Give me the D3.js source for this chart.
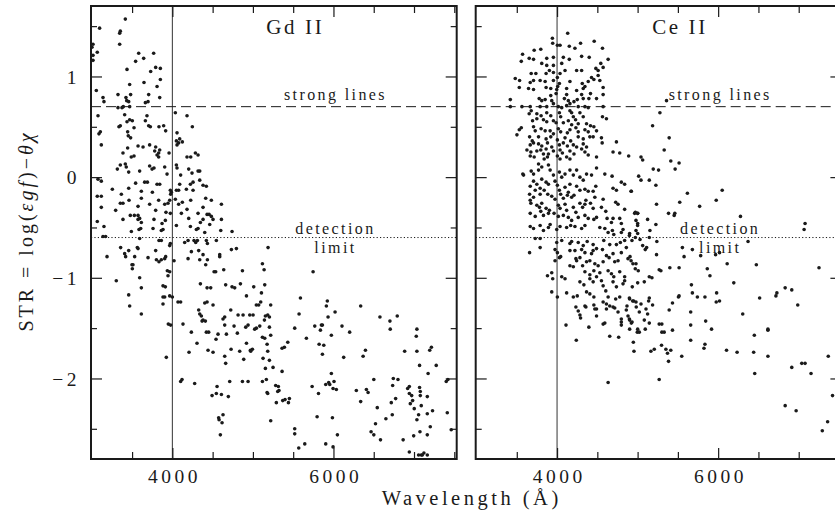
<!DOCTYPE html>
<html>
<head>
<meta charset="utf-8">
<script src="https://cdn.jsdelivr.net/npm/d3@7"></script>
<style>
  body { margin: 0; background: #fff; }
  svg text { font-family: "Liberation Serif", "Times New Roman", serif; fill: #1a1a1a; }
</style>
</head>
<body>
<svg id="chart" width="835" height="520"></svg>
<script>
// [wavelength (A), STR]
const gdLines = [
  [3416,1.57],[3097,1.48],[3354,1.45],[3346,1.43],[3346,1.32],[3015,1.32],[3002,1.29],[3068,1.24],[3015,1.21],[3015,1.16],
  [3582,1.23],[3768,1.23],[3544,1.15],[3644,1.18],[3793,1.09],[3851,1.08],[3731,1.05],[3437,1.07],[3851,0.97],[3648,0.94],
  [3470,0.92],[3810,0.90],[3056,0.86],[3325,0.82],[3482,0.82],[3706,0.82],[3139,0.79],[3151,0.75],[3843,0.79],[3424,0.79],
  [3433,0.76],[3458,0.75],[3470,0.70],[3665,0.74],[3698,0.75],[3375,0.69],[3325,0.69],[3391,0.70],[4037,0.64],[4182,0.61],
  [3077,0.61],[3408,0.62],[3685,0.61],[3470,0.57],[3503,0.56],[3437,0.55],[3354,0.51],[3337,0.50],[3665,0.56],[3706,0.51],
  [3727,0.50],[3524,0.49],[3892,0.51],[3834,0.50],[3917,0.46],[4248,0.50],[3106,0.45],[3089,0.43],[3445,0.45],[3453,0.41],
  [3482,0.39],[4058,0.44],[4050,0.36],[4078,0.34],[4058,0.32],[4124,0.35],[4091,0.38],[3118,0.32],[3574,0.31],[3636,0.30],
  [3718,0.32],[3793,0.30],[3445,0.29],[3781,0.26],[3830,0.24],[3843,0.27],[3810,0.22],[3830,0.20],[3959,0.24],[3387,0.24],
  [4286,0.24],[4228,0.20],[4182,0.20],[4319,0.22],[3524,0.21],[3490,0.20],[4050,0.12],[4058,0.09],[3354,0.12],[3317,0.08],
  [3416,0.13],[3428,0.10],[3718,0.11],[3772,0.09],[3748,0.08],[3905,0.10],[3458,0.05],[3594,0.06],[3934,0.03],[4203,0.08],
  [4244,0.04],[4319,0.06],[4340,0.06],[4103,0.02],[3077,-0.02],[3118,-0.04],[3544,-0.06],[3656,-0.05],[3690,-0.05],[3810,-0.07],
  [3843,-0.07],[4224,-0.07],[4091,-0.07],[4257,-0.05],[4340,-0.03],[4381,-0.08],[4422,-0.09],[3458,-0.11],[3255,-0.12],[3975,-0.13],
  [3988,-0.15],[3979,-0.17],[4050,-0.13],[4078,-0.13],[4174,-0.12],[3615,-0.14],[3367,-0.17],[3068,-0.19],[3118,-0.19],[4257,-0.13],
  [3752,-0.15],[3462,-0.23],[3615,-0.21],[3830,-0.23],[3967,-0.23],[4037,-0.22],[4414,-0.21],[4484,-0.23],[4228,-0.23],[3354,-0.26],
  [3387,-0.26],[3718,-0.27],[3905,-0.27],[3946,-0.26],[4124,-0.25],[3118,-0.30],[3574,-0.29],[4078,-0.27],[4381,-0.30],[4609,-0.27],
  [3296,-0.33],[3793,-0.33],[3921,-0.35],[3975,-0.36],[3478,-0.38],[3528,-0.38],[3574,-0.38],[3594,-0.41],[4182,-0.32],[4431,-0.37],
  [4456,-0.37],[4484,-0.39],[4112,-0.36],[4319,-0.36],[4505,-0.42],[4609,-0.42],[3387,-0.42],[3574,-0.42],[3615,-0.45],[3772,-0.42],
  [4203,-0.41],[3913,-0.43],[3872,-0.46],[3884,-0.52],[3068,-0.44],[4348,-0.45],[4381,-0.42],[3151,-0.49],[3586,-0.52],[3607,-0.51],
  [3491,-0.54],[3760,-0.51],[4050,-0.48],[4224,-0.49],[4298,-0.52],[4319,-0.51],[4464,-0.47],[4601,-0.53],[4741,-0.54],[4402,-0.55],
  [3863,-0.53],[3139,-0.59],[3172,-0.59],[3594,-0.61],[3834,-0.63],[3863,-0.63],[3967,-0.68],[3975,-0.66],[4153,-0.65],[4195,-0.63],
  [4269,-0.63],[4311,-0.63],[4290,-0.65],[4422,-0.63],[4435,-0.66],[4546,-0.63],[3358,-0.70],[5188,-0.70],[3189,-0.79],[3458,-0.73],
  [3408,-0.76],[3420,-0.79],[3565,-0.70],[3574,-0.71],[3532,-0.79],[3499,-0.87],[3698,-0.80],[3793,-0.73],[3802,-0.82],[3834,-0.84],
  [3863,-0.82],[3905,-0.81],[3917,-0.79],[4021,-0.83],[4195,-0.81],[4236,-0.74],[4327,-0.73],[4381,-0.77],[4340,-0.82],[4588,-0.77],
  [4588,-0.79],[4435,-0.82],[4733,-0.72],[4795,-0.71],[3511,-0.87],[4414,-0.87],[3503,-0.91],[3938,-0.93],[3967,-0.94],[3946,-0.98],
  [3594,-1.00],[3304,-1.03],[4518,-0.94],[4538,-0.94],[4638,-0.92],[4870,-0.93],[5118,-0.86],[5139,-0.92],[5747,-0.94],[3615,-1.10],
  [3884,-1.08],[3913,-1.09],[3458,-1.17],[3884,-1.19],[3905,-1.19],[3967,-1.18],[4000,-1.19],[4348,-1.06],[4431,-1.10],[4476,-1.10],
  [4662,-1.07],[4741,-1.09],[4774,-1.10],[4845,-1.06],[5010,-1.09],[5147,-1.07],[5106,-1.15],[4920,-1.18],[4070,-1.24],[4103,-1.24],
  [3470,-1.28],[3884,-1.26],[4402,-1.25],[4431,-1.24],[4505,-1.27],[5043,-1.27],[5072,-1.27],[5097,-1.24],[5221,-1.27],[5590,-1.20],
  [5924,-1.23],[5912,-1.28],[6338,-1.28],[3615,-1.36],[4327,-1.32],[4340,-1.36],[4360,-1.38],[4369,-1.43],[4410,-1.43],[4381,-1.42],
  [4725,-1.32],[4650,-1.39],[4629,-1.41],[4816,-1.37],[4878,-1.37],[4961,-1.37],[5002,-1.37],[5155,-1.38],[5184,-1.37],[5143,-1.42],
  [5205,-1.39],[5573,-1.36],[5933,-1.39],[6020,-1.34],[6577,-1.39],[6792,-1.38],[6701,-1.43],[3950,-1.46],[3979,-1.47],[4132,-1.46],
  [4650,-1.47],[4766,-1.48],[4911,-1.49],[4940,-1.47],[5043,-1.50],[5022,-1.51],[5085,-1.48],[5205,-1.49],[5519,-1.50],[5768,-1.48],
  [5850,-1.47],[5863,-1.47],[5838,-1.52],[6106,-1.48],[6201,-1.54],[6705,-1.51],[7036,-1.51],[4236,-1.54],[4422,-1.54],[4451,-1.54],
  [4567,-1.56],[4671,-1.56],[4807,-1.55],[5118,-1.59],[5147,-1.60],[5221,-1.57],[5664,-1.60],[5974,-1.57],[7028,-1.58],[4542,-1.61],
  [5822,-1.66],[5880,-1.67],[4306,-1.65],[4920,-1.65],[5176,-1.66],[5433,-1.64],[5362,-1.70],[5391,-1.69],[4207,-1.74],[4443,-1.72],
  [4505,-1.74],[4729,-1.71],[4836,-1.73],[4973,-1.73],[4994,-1.71],[4969,-1.72],[5184,-1.73],[6397,-1.72],[6884,-1.73],[7036,-1.73],
  [7216,-1.69],[7195,-1.72],[4650,-1.78],[4662,-1.85],[4886,-1.81],[5126,-1.80],[5205,-1.82],[5863,-1.76],[6368,-1.78],[6127,-1.79],
  [7069,-1.87],[7276,-1.87],[3925,-1.79],[5155,-1.90],[5250,-1.89],[5362,-1.93],[5974,-1.95],[7175,-1.95],[4103,-2.03],[4120,-2.01],
  [4277,-2.05],[4712,-2.03],[4870,-2.03],[4940,-2.03],[5118,-2.03],[5167,-2.01],[5941,-2.04],[6007,-2.03],[6501,-2.01],[6743,-2.00],
  [6801,-2.01],[7400,-2.03],[7421,-2.01],[4555,-2.08],[5735,-2.08],[5904,-2.06],[5954,-2.06],[5995,-2.10],[6036,-2.11],[6284,-2.12],
  [6409,-2.11],[6430,-2.14],[6735,-2.07],[6921,-2.10],[6942,-2.08],[7069,-2.09],[7078,-2.13],[4493,-2.17],[4546,-2.15],[4609,-2.16],
  [4695,-2.18],[5176,-2.14],[5184,-2.15],[5283,-2.07],[5316,-2.08],[5324,-2.12],[5370,-2.22],[5399,-2.21],[5453,-2.20],[5441,-2.24],
  [5291,-2.24],[5308,-2.13],[5814,-2.15],[6338,-2.23],[6718,-2.24],[6772,-2.20],[6942,-2.15],[6971,-2.17],[6983,-2.22],[6954,-2.25],
  [7078,-2.17],[7165,-2.18],[7090,-2.27],[6544,-2.29],[7003,-2.30],[7230,-2.32],[7413,-2.34],[4629,-2.36],[4575,-2.39],[4580,-2.41],
  [4617,-2.44],[4596,-2.56],[5221,-2.42],[5797,-2.38],[5987,-2.39],[6522,-2.45],[6651,-2.40],[6730,-2.36],[7057,-2.36],[7036,-2.41],
  [7165,-2.35],[7202,-2.48],[7462,-2.51],[5519,-2.50],[5519,-2.55],[6049,-2.56],[6467,-2.53],[6501,-2.56],[6584,-2.61],[6996,-2.57],
  [7074,-2.53],[7165,-2.56],[6865,-2.61],[5569,-2.69],[5644,-2.65],[5904,-2.65],[5995,-2.68],[6942,-2.73],[7090,-2.76],[7123,-2.74],
  [7165,-2.76],[7103,-2.76],[7057,-2.76]
];

const ceLines = [
  [4132,1.43],[3942,1.38],[3946,1.33],[4004,1.31],[4037,1.31],[4152,1.30],[4292,1.33],[4461,1.35],[4222,1.28],[4564,1.28],
  [3572,1.22],[3556,1.15],[3716,1.26],[3798,1.27],[3654,1.18],[3708,1.17],[3872,1.18],[3955,1.19],[4078,1.19],[4152,1.17],
  [4305,1.20],[4399,1.19],[4543,1.13],[4634,1.17],[4482,1.08],[4510,1.06],[4572,1.09],[3810,1.13],[3872,1.11],[3905,1.06],
  [3864,1.03],[3955,1.11],[3955,1.04],[4058,1.13],[4099,1.06],[4037,1.03],[4243,1.06],[4305,1.06],[3679,1.03],[3737,1.03],
  [3790,0.96],[3852,0.95],[3481,0.98],[3535,0.96],[3531,0.89],[3667,0.94],[3708,0.96],[3955,0.96],[4004,0.99],[4029,0.93],
  [4160,0.95],[4387,0.95],[4346,0.90],[4313,0.93],[4428,0.99],[4457,0.97],[4531,0.96],[4510,1.01],[3646,0.88],[3708,0.87],
  [3864,0.89],[3922,0.88],[3996,0.87],[4008,0.90],[4119,0.88],[4119,0.82],[4243,0.86],[4325,0.88],[4415,0.83],[4572,0.89],
  [3988,0.83],[3922,0.81],[4305,0.82],[4490,0.78],[4572,0.82],[3420,0.77],[3778,0.78],[3810,0.76],[3852,0.77],[3934,0.76],
  [3955,0.73],[4091,0.78],[4140,0.76],[4160,0.73],[4210,0.75],[4251,0.77],[4395,0.78],[4325,0.78],[3420,0.70],[3564,0.70],
  [3667,0.70],[3679,0.66],[3790,0.70],[3872,0.70],[4016,0.70],[4058,0.69],[4119,0.71],[4160,0.66],[4263,0.70],[4346,0.70],
  [4387,0.69],[4572,0.70],[3654,0.63],[3749,0.63],[3802,0.61],[3872,0.64],[3922,0.61],[4029,0.64],[4045,0.60],[4181,0.64],
  [4202,0.60],[4284,0.64],[4325,0.60],[3696,0.56],[3749,0.58],[3831,0.57],[3872,0.55],[3955,0.56],[3988,0.54],[4078,0.54],
  [4140,0.56],[4181,0.52],[4230,0.57],[4263,0.53],[4366,0.53],[4415,0.51],[4564,0.60],[4613,0.58],[3556,0.49],[3531,0.47],
  [3502,0.42],[3708,0.50],[3729,0.46],[3802,0.48],[3852,0.46],[3914,0.46],[3955,0.43],[4016,0.48],[4045,0.45],[4160,0.47],
  [4128,0.44],[4234,0.49],[4263,0.45],[4346,0.47],[4387,0.45],[4457,0.50],[4490,0.46],[3659,0.40],[3692,0.36],[3770,0.40],
  [3864,0.38],[3922,0.40],[4004,0.37],[4099,0.39],[4169,0.36],[4263,0.40],[4325,0.38],[4407,0.40],[4448,0.40],[4551,0.39],
  [4560,0.34],[3667,0.32],[3708,0.34],[3770,0.33],[3810,0.31],[3881,0.34],[3934,0.30],[4029,0.32],[4078,0.34],[4128,0.31],
  [4202,0.32],[4243,0.30],[4325,0.33],[4366,0.30],[4737,0.35],[3626,0.27],[3675,0.25],[3749,0.26],[3798,0.27],[3864,0.28],
  [3893,0.23],[3955,0.26],[4037,0.27],[4066,0.24],[4160,0.26],[4210,0.23],[4305,0.28],[4346,0.25],[4695,0.25],[4778,0.24],
  [4889,0.21],[3667,0.21],[3716,0.20],[3831,0.23],[3840,0.18],[3881,0.20],[4004,0.21],[4037,0.18],[4119,0.20],[4160,0.18],
  [4490,0.20],[4387,0.22],[3575,0.03],
  [3584,0.02],[3679,0.06],[3708,0.03],[3770,0.13],[3810,0.10],[3770,0.07],[3893,0.12],[3914,0.07],[3708,-0.04],[3749,-0.07],
  [3810,-0.02],[3864,-0.05],[3893,-0.07],[3955,0.02],[3975,-0.04],[4029,0.05],[4058,0.00],[4099,0.03],[4160,0.07],[4202,0.02],
  [4243,0.07],[4284,0.00],[4325,-0.03],[4366,0.03],[4428,0.02],[4490,0.09],[4593,0.03],[4683,0.01],[3667,-0.09],[3729,-0.13],
  [3790,-0.11],[3840,-0.13],[4004,-0.08],[4029,-0.13],[4099,-0.10],[4140,-0.15],[4160,-0.07],[4243,-0.09],[4284,-0.13],[4346,-0.12],
  [4387,-0.14],[4481,-0.09],[4448,-0.14],[4695,-0.11],[4737,-0.13],[4798,-0.05],[4839,-0.07],[4922,-0.14],[3659,-0.17],[3708,-0.20],
  [3790,-0.17],[3885,-0.17],[3934,-0.19],[3975,-0.22],[4045,-0.17],[4078,-0.21],[4128,-0.18],[4181,-0.20],[4210,-0.18],[4358,-0.23],
  [4346,-0.27],[4469,-0.20],[4572,-0.22],[3667,-0.23],[3675,-0.26],[3749,-0.28],[3782,-0.30],[3810,-0.26],[3864,-0.31],[3893,-0.36],
  [4016,-0.28],[4037,-0.31],[4099,-0.27],[4119,-0.33],[4202,-0.30],[4234,-0.35],[4284,-0.26],[4317,-0.30],[4415,-0.26],[4448,-0.31],
  [4551,-0.30],[4605,-0.34],[4728,-0.25],[4757,-0.27],[4839,-0.32],[4963,-0.36],[3667,-0.36],[3729,-0.39],[3798,-0.34],[3831,-0.38],
  [3905,-0.33],[3963,-0.36],[4016,-0.39],[4078,-0.38],[4140,-0.40],[4181,-0.43],[4263,-0.40],[4346,-0.38],[4387,-0.41],[4457,-0.42],
  [4490,-0.40],[4621,-0.41],[4675,-0.45],[4695,-0.41],[4778,-0.41],[4798,-0.46],[5000,-0.36],[3667,-0.49],[3708,-0.51],[3790,-0.48],
  [3831,-0.53],[3893,-0.50],[3914,-0.47],[3996,-0.52],[4037,-0.49],[4119,-0.50],[4169,-0.48],[4222,-0.49],[4305,-0.51],[4346,-0.48],
  [4531,-0.50],[4593,-0.51],[4634,-0.55],[4687,-0.53],[4704,-0.57],[4798,-0.55],[4819,-0.52],[4901,-0.56],[5000,-0.48],[3729,-0.61],
  [3790,-0.61],[3790,-0.70],[3659,-0.75],[3996,-0.65],[4058,-0.63],[4160,-0.66],[4181,-0.64],[4263,-0.65],[4325,-0.68],[4374,-0.64],
  [4448,-0.67],[4490,-0.71],[4580,-0.63],[4654,-0.67],[4737,-0.67],[4786,-0.65],[4839,-0.63],[4860,-0.70],[4930,-0.63],[3975,-0.72],
  [4004,-0.75],[4029,-0.80],[3975,-0.83],[4160,-0.73],[4222,-0.73],[4305,-0.72],[4346,-0.75],[4448,-0.73],[4428,-0.76],[4564,-0.72],
  [4613,-0.78],[4646,-0.80],[4695,-0.76],[4798,-0.75],[4045,-0.79],[4234,-0.81],[4284,-0.80],[4243,-0.83],[4366,-0.84],[4407,-0.83],
  [4469,-0.86],[4510,-0.88],[4572,-0.84],[4716,-0.84],[4757,-0.83],[4881,-0.81],[4942,-0.86],[4971,-0.91],[4160,-0.88],[4202,-0.89],
  [4317,-0.88],[3881,-0.98],[3934,-0.95],[3946,-1.01],[4058,-0.99],[4099,-1.01],[4346,-0.94],[4407,-0.97],[4457,-0.93],[4490,-0.99],
  [4531,-0.95],[4634,-0.93],[4675,-0.96],[4704,-0.99],[4778,-0.94],[4839,-0.99],[5008,-0.93],[4284,-1.04],[4333,-1.07],[4407,-1.01],
  [4448,-1.04],[4551,-1.03],[4572,-1.08],[4695,-1.04],[4737,-1.09],[4819,-1.06],[4839,-1.03],[4934,-1.09],[3934,-1.14],[4004,-1.19],
  [4119,-1.15],[4202,-1.19],[4251,-1.18],[4366,-1.14],[4407,-1.16],[4457,-1.19],[4605,-1.13],[4634,-1.19],[4728,-1.21],[4778,-1.19],
  [4901,-1.21],[4951,-1.23],[4572,-1.24],[4613,-1.26],[4234,-1.29],[4346,-1.28],[4457,-1.27],[4490,-1.31],[4654,-1.28],[4716,-1.30],
  [4868,-1.28],[4983,-1.29],
  [4263,-1.33],[4358,-1.29],[4469,-1.31],[4613,-1.31],[4695,-1.29],[4757,-1.34],[4860,-1.32],[4798,-1.41],[4798,-1.44],[4798,-1.47],
  [4881,-1.38],[4901,-1.42],[4922,-1.45],[4284,-1.37],[4292,-1.40],[4490,-1.38],[4572,-1.46],[4593,-1.45],[4111,-1.47],[4395,-1.49],
  [4654,-1.58],[4765,-1.59],[4901,-1.51],[4996,-1.54],[4239,-1.62],[4955,-1.73],[4634,-2.04],
  [5359,0.76],[5277,0.64],[5186,0.51],[5392,0.39],[5330,0.27],[5042,0.20],[5063,0.17],[5194,0.08],[5260,0.07],[5412,0.16],
  [5515,0.14],[5466,0.08],[5013,0.01],[5042,-0.03],[5145,-0.03],[5227,-0.08],[4919,-0.14],[5618,-0.16],[6050,-0.13],[5976,-0.23],
  [5523,-0.25],[5770,-0.29],[5235,-0.27],[4972,-0.35],[5001,-0.36],[5384,-0.36],[5454,-0.38],[5462,-0.36],[4980,-0.43],[5001,-0.46],
  [5124,-0.42],[5227,-0.47],[6277,-0.39],[7079,-0.46],[7067,-0.52],[4980,-0.53],[5001,-0.56],[5153,-0.53],[4898,-0.58],[4972,-0.60],
  [5030,-0.62],[5145,-0.60],[5239,-0.64],[5063,-0.68],[5112,-0.70],[5095,-0.72],[5556,-0.70],[5680,-0.72],[5577,-0.79],[5783,-0.78],
  [5968,-0.77],[6017,-0.75],[6371,-0.64],[5235,-0.77],[4906,-0.79],[4919,-0.83],[4980,-0.86],[6112,-0.86],[6474,-0.87],[7252,-0.90],
  [5268,-0.92],[5289,-0.93],[5400,-0.90],[5515,-0.90],[5865,-0.91],[5898,-0.98],[5145,-0.99],[5178,-1.00],[5001,-1.05],[5083,-1.04],
  [6194,-1.05],[5668,-1.07],[5680,-1.15],[5742,-1.19],[5836,-1.19],[5515,-1.18],[5507,-1.19],[5981,-1.15],[5976,-1.24],[6017,-1.23],
  [6729,-1.15],[6717,-1.18],[6832,-1.10],[6914,-1.12],[6515,-1.20],[6988,-1.27],[4898,-1.20],[4939,-1.23],[4980,-1.24],[5042,-1.26],
  [5145,-1.20],[5137,-1.23],[5186,-1.27],[5433,-1.25],[5021,-1.34],[5104,-1.31],[5124,-1.36],[5392,-1.32],[4898,-1.41],[4931,-1.44],
  [5083,-1.42],[5145,-1.45],[5001,-1.51],[5021,-1.54],[5095,-1.51],[5268,-1.46],[5301,-1.46],[5301,-1.54],[5330,-1.54],[5433,-1.52],
  [5659,-1.34],[5845,-1.43],[5659,-1.47],[5412,-1.72],[6305,-1.36],[5659,-1.62],[5836,-1.66],[5824,-1.70],[5918,-1.51],[6449,-1.57],
  [6618,-1.51],[6618,-1.52],[4947,-1.64],[5207,-1.71],[5165,-1.73],[5297,-1.67],[5351,-1.71],[5371,-1.75],[5384,-1.83],[5548,-1.78],
  [6104,-1.72],[6235,-1.74],[6441,-1.74],[6618,-1.78],[7367,-1.78],[5268,-2.01],[6454,-1.95],[6914,-1.89],[7038,-1.85],[7079,-1.85],
  [7153,-1.95],[6832,-2.27],[6968,-2.32],[7359,-2.43],[7293,-2.52],[7420,-2.17]
];

const panelNames = ["Gd II", "Ce II"];
const xMajorTicks = [4000, 6000];
const xMinorTicks = [3500, 4500, 5000, 5500, 6500, 7000, 7500];
const yMajorTicks = [-2, -1, 0, 1];
const yMinorTicks = [-2.5, -1.5, -0.5, 0.5, 1.5];
const strongLimit = 0.7;
const detectionLimit = -0.6;
const referenceWave = 4000;

const svg = d3.select("#chart");
const panelW = 365.7, panelH = 453, panelTop = 6;
const panelLeft = [91, 475.7];
const ink = "#1a1a1a";

const x = d3.scaleLinear().domain([2990, 7530]).range([0, panelW]);
const y = d3.scaleLinear().domain([-2.8, 1.7]).range([panelH, 0]);

function styleAxis(g) {
  g.select(".domain").remove();
  g.selectAll(".tick line").attr("stroke", ink).attr("stroke-width", 1.2);
  g.selectAll(".tick text")
    .attr("fill", ink)
    .style("font-family", '"Liberation Serif", serif')
    .style("font-size", "19.5px")
    .style("letter-spacing", "3.5px");
}

function drawPanel(i, data) {
  const g = svg.append("g").attr("transform", `translate(${panelLeft[i]},${panelTop})`);

  g.append("clipPath").attr("id", "clip" + i)
    .append("rect").attr("width", panelW).attr("height", panelH);

  // reference lines
  g.append("line")
    .attr("x1", x(referenceWave)).attr("x2", x(referenceWave))
    .attr("y1", 0).attr("y2", panelH)
    .attr("stroke", "#333").attr("stroke-width", 1);
  g.append("line")
    .attr("x1", 0).attr("x2", panelW)
    .attr("y1", y(strongLimit)).attr("y2", y(strongLimit))
    .attr("stroke", ink).attr("stroke-width", 1)
    .attr("stroke-dasharray", "10,5");
  g.append("line")
    .attr("x1", 0).attr("x2", panelW)
    .attr("y1", y(detectionLimit)).attr("y2", y(detectionLimit))
    .attr("stroke", ink).attr("stroke-width", 1)
    .attr("stroke-dasharray", "1.2,2.2");

  // labels
  const label = (txt, wx, py, size) => g.append("text")
    .attr("x", x(wx)).attr("y", py)
    .attr("text-anchor", "middle")
    .attr("dx", size > 18 ? 1.3 : 1.2)
    .style("font-size", size + "px")
    .style("letter-spacing", size > 18 ? "2.6px" : "2.4px")
    .text(txt);
  label(panelNames[i], 5510, 28, 21);
  label("strong lines", 6010, y(strongLimit) - 6.5, 16);
  label("detection", 6010, y(detectionLimit) - 4, 16);
  label("limit", 6010, y(detectionLimit) + 15, 16);

  // points
  g.append("g").attr("clip-path", `url(#clip${i})`)
    .selectAll("circle")
    .data(data)
    .join("circle")
    .attr("cx", d => x(d[0]))
    .attr("cy", d => y(d[1]))
    .attr("r", 1.8)
    .attr("fill", ink);

  // ticks on all four sides, pointing inward
  g.append("g").attr("transform", `translate(0,${panelH})`)
    .call(d3.axisBottom(x).tickValues(xMajorTicks).tickSize(-11).tickFormat(d3.format("d")))
    .call(styleAxis)
    .call(a => a.selectAll(".tick text").attr("y", 24).attr("dy", 0).attr("dx", 1.75));
  g.append("g").attr("transform", `translate(0,${panelH})`)
    .call(d3.axisBottom(x).tickValues(xMinorTicks).tickSize(-7).tickFormat(""))
    .call(styleAxis);
  g.append("g")
    .call(d3.axisTop(x).tickValues(xMajorTicks).tickSize(-11).tickFormat(""))
    .call(styleAxis);
  g.append("g")
    .call(d3.axisTop(x).tickValues(xMinorTicks).tickSize(-7).tickFormat(""))
    .call(styleAxis);

  const left = d3.axisLeft(y).tickValues(yMajorTicks).tickSize(-11).tickPadding(11)
    .tickFormat(i > 0 ? "" : d3.format("d"));
  g.append("g").call(left).call(styleAxis)
    .call(a => a.selectAll(".tick text").attr("dy", "0.34em"));
  g.append("g")
    .call(d3.axisLeft(y).tickValues(yMinorTicks).tickSize(-6).tickFormat(""))
    .call(styleAxis);
  g.append("g").attr("transform", `translate(${panelW},0)`)
    .call(d3.axisRight(y).tickValues(yMajorTicks).tickSize(-11).tickFormat(""))
    .call(styleAxis);
  g.append("g").attr("transform", `translate(${panelW},0)`)
    .call(d3.axisRight(y).tickValues(yMinorTicks).tickSize(-6).tickFormat(""))
    .call(styleAxis);

  // frame
  g.append("rect")
    .attr("width", panelW).attr("height", panelH)
    .attr("fill", "none").attr("stroke", ink).attr("stroke-width", 2);
}

drawPanel(0, gdLines);
drawPanel(1, ceLines);

// axis titles
svg.append("text")
  .attr("x", 470).attr("y", 505)
  .attr("text-anchor", "middle")
  .attr("dx", 1.75)
  .style("font-size", "20.5px")
  .style("letter-spacing", "3.5px")
  .text("Wavelength (Å)");

const yTitle = svg.append("text")
  .attr("transform", "translate(33,231) rotate(-90)")
  .attr("text-anchor", "middle")
  .style("font-size", "20px")
  .style("letter-spacing", "3px");
yTitle.append("tspan").text("STR = log(");
yTitle.append("tspan").style("font-style", "italic").text("εgf");
yTitle.append("tspan").text(")−");
yTitle.append("tspan").style("font-style", "italic").text("θχ");
</script>
</body>
</html>
